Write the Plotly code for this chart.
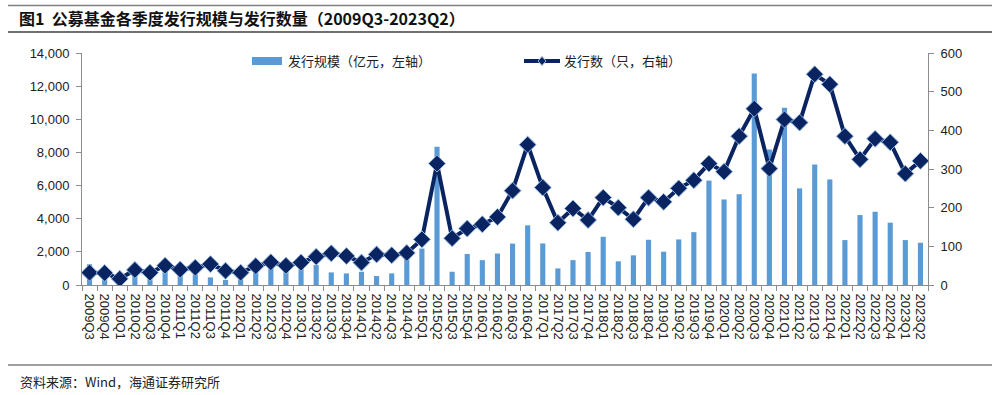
import plotly.graph_objects as go

quarters = ["2009Q3", "2009Q4"] + [f"{y}Q{q}" for y in range(2010, 2023) for q in range(1, 5)] + ["2023Q1", "2023Q2"]

issue_scale = [1250, 700, 150, 900, 800, 1400, 1000, 640, 460, 300,
               340, 1400, 1650, 1400, 1250, 1200, 760, 700, 800, 540,
               700, 1600, 2200, 8340, 800, 1870, 1500, 1900, 2500, 3600,
               2510, 1000, 1500, 1990, 2910, 1430, 1790, 2730, 2010, 2750,
               3190, 6300, 5160, 5480, 12760, 8180, 10690, 5830, 7270, 6370,
               2710, 4220, 4420, 3760, 2710, 2550]

issue_count = [32, 31, 16, 39, 32, 50, 40, 45, 54, 37,
               32, 49, 59, 50, 58, 73, 82, 75, 58, 79,
               77, 83, 118, 314, 121, 146, 157, 176, 244, 363,
               252, 161, 198, 168, 226, 200, 170, 226, 215, 250,
               271, 314, 293, 385, 456, 301, 428, 420, 545, 519,
               385, 325, 378, 369, 288, 321]

left_ticks = [0, 2000, 4000, 6000, 8000, 10000, 12000, 14000]
right_ticks = [0, 100, 200, 300, 400, 500, 600]

title_text = "图1  公募基金各季度发行规模与发行数量（2009Q3-2023Q2）"
source_text = "资料来源：Wind，海通证券研究所"
bar_name = "发行规模（亿元，左轴）"
line_name = "发行数（只，右轴）"

BAR = "#5b9bd5"
LINE = "#0a2461"
AX = "#8c8c8c"
TXT = "#222222"
FONT = "Liberation Sans, Noto Sans CJK SC, Arial, sans-serif"
CJK = "Noto Sans CJK SC, sans-serif"

fig = go.Figure()
fig.add_trace(go.Bar(
    x=quarters, y=issue_scale, name=bar_name,
    marker=dict(color=BAR, line=dict(width=0)), width=0.34, yaxis="y",
))
fig.add_trace(go.Scatter(
    x=quarters, y=issue_count, name=line_name, mode="lines+markers",
    line=dict(color=LINE, width=4),
    marker=dict(symbol="diamond", size=13, color=LINE, line=dict(color="#8fb4e0", width=1)),
    yaxis="y2",
))

L, R, T, B = 82, 72, 53, 110
W, H = 1000, 395
pw, ph = W - L - R, H - T - B

def px(x):
    return (x - L) / pw

def py(y):
    return (H - B - y) / ph

# custom legend geometry
leg_y = 61
dx, dy = 4, 4.5
cx = 542
diamond = (f"M {px(cx - dx)} {py(leg_y)} L {px(cx)} {py(leg_y - dy)} "
           f"L {px(cx + dx)} {py(leg_y)} L {px(cx)} {py(leg_y + dy)} Z")

fig.update_layout(
    width=W, height=H,
    margin=dict(l=L, r=R, t=T, b=B, pad=0),
    paper_bgcolor="white", plot_bgcolor="white",
    font=dict(family=FONT, size=13, color=TXT),
    showlegend=False,
    xaxis=dict(
        type="category", tickangle=90, tickson="boundaries", dtick=1,
        showline=True, linecolor=AX, linewidth=1,
        ticks="outside", ticklen=5, tickcolor=AX,
        tickfont=dict(family=FONT, size=13, color=TXT),
        showgrid=False, zeroline=False,
        range=[-0.5, len(quarters) - 0.5],
        ticklabelstandoff=5,
    ),
    yaxis=dict(
        range=[0, 14000], tickvals=left_ticks, tickformat=",",
        showline=True, linecolor=AX, linewidth=1,
        ticks="outside", ticklen=5, tickcolor=AX,
        showgrid=False, zeroline=False,
        tickfont=dict(family=FONT, size=13, color=TXT),
        ticklabelstandoff=4,
    ),
    yaxis2=dict(
        range=[0, 600], tickvals=right_ticks, overlaying="y", side="right",
        showline=True, linecolor=AX, linewidth=1,
        ticks="outside", ticklen=5, tickcolor=AX,
        showgrid=False, zeroline=False,
        tickfont=dict(family=FONT, size=13, color=TXT),
        ticklabelstandoff=4,
    ),
    shapes=[
        dict(type="line", xref="paper", yref="paper", x0=px(8), x1=px(992), y0=py(5.5), y1=py(5.5),
             line=dict(color="#808080", width=1.5)),
        dict(type="line", xref="paper", yref="paper", x0=px(8), x1=px(992), y0=py(32), y1=py(32),
             line=dict(color="#707070", width=2)),
        dict(type="line", xref="paper", yref="paper", x0=px(8), x1=px(992), y0=py(365), y1=py(365),
             line=dict(color="#404040", width=1)),
        # legend: bar swatch
        dict(type="rect", xref="paper", yref="paper", x0=px(252), x1=px(282), y0=py(leg_y + 4), y1=py(leg_y - 4),
             fillcolor=BAR, line=dict(width=0)),
        # legend: line swatch
        dict(type="line", xref="paper", yref="paper", x0=px(524), x1=px(560), y0=py(leg_y), y1=py(leg_y),
             line=dict(color=LINE, width=4)),
        dict(type="path", xref="paper", yref="paper", path=diamond,
             fillcolor=LINE, line=dict(color="#8fb4e0", width=1)),
    ],
    annotations=[
        dict(text="<b>" + title_text + "</b>", xref="paper", yref="paper", x=px(17), y=py(18),
             xanchor="left", yanchor="middle", showarrow=False,
             font=dict(family=CJK, size=16, color="#111111")),
        dict(text=source_text, xref="paper", yref="paper", x=px(18), y=py(381),
             xanchor="left", yanchor="middle", showarrow=False,
             font=dict(family=CJK, size=13, color=TXT)),
        dict(text=bar_name, xref="paper", yref="paper", x=px(286), y=py(leg_y),
             xanchor="left", yanchor="middle", showarrow=False,
             font=dict(family=CJK, size=13, color=TXT)),
        dict(text=line_name, xref="paper", yref="paper", x=px(562), y=py(leg_y),
             xanchor="left", yanchor="middle", showarrow=False,
             font=dict(family=CJK, size=13, color=TXT)),
    ],
)

fig.write_html("out.html", config={"displayModeBar": False},
               post_script="document.body.style.margin='0';document.body.style.overflow='hidden';")
